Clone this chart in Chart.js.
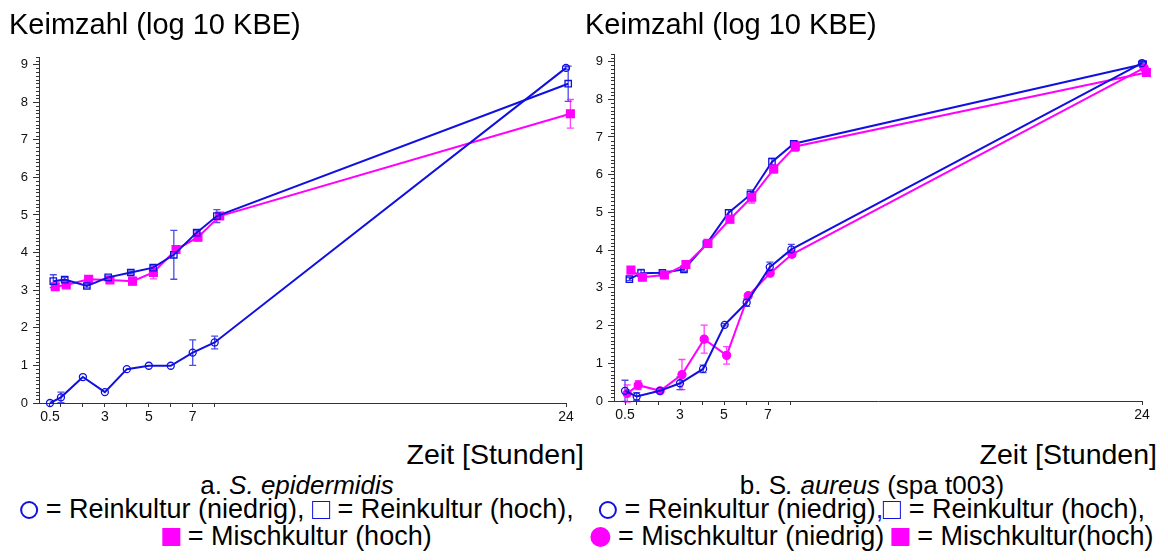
<!DOCTYPE html>
<html>
<head>
<meta charset="utf-8">
<script src="https://cdn.jsdelivr.net/npm/chart.js@4.4.1/dist/chart.umd.min.js"></script>
<style>
  body { margin: 0; background: #fff; }
  #page { position: relative; width: 1168px; height: 560px; overflow: hidden;
          font-family: "Liberation Sans", Arial, sans-serif; color: #000; }
  canvas { position: absolute; top: 0; }
  .txt { position: absolute; white-space: nowrap; line-height: 1; }
  .title { font-size: 29px; top: 10px; }
  .xname { font-size: 28.5px; top: 440px; }
  .cap { font-size: 26px; top: 472px; transform: translateX(-50%); }
  .leg { font-size: 27px; transform: translateX(-50%); }
  .sym { display: inline-block; box-sizing: border-box; vertical-align: -1px; }
  .o { width: 18px; height: 18px; border: 2px solid #1010e0; border-radius: 50%; }
  .sq { width: 18px; height: 18px; border: 1.5px solid #1010e0; }
  .fsq { width: 18px; height: 18px; background: #ff00ff; }
  .fo { width: 20px; height: 20px; background: #ff00ff; border-radius: 50%; vertical-align: -2px; }
</style>
</head>
<body>
<div id="page">
  <canvas id="epi" width="584" height="430" style="left:0"></canvas>
  <canvas id="aur" width="584" height="430" style="left:580px"></canvas>

  <div class="txt title" style="left:9px">Keimzahl (log 10 KBE)</div>
  <div class="txt title" style="left:585px">Keimzahl (log 10 KBE)</div>
  <div class="txt xname" style="right:584px">Zeit [Stunden]</div>
  <div class="txt xname" style="right:11px">Zeit [Stunden]</div>

  <div class="txt cap" style="left:297px">a. <i>S. epidermidis</i></div>
  <div class="txt cap" style="left:872px">b. S<i>. aureus</i> (spa t003)</div>

  <div class="txt leg" style="left:297px;top:496px"><span class="sym o"></span> = Reinkultur (niedrig), <span class="sym sq"></span> = Reinkultur (hoch),</div>
  <div class="txt leg" style="left:297px;top:523px"><span class="sym fsq"></span> = Mischkultur (hoch)</div>
  <div class="txt leg" style="left:872px;top:496px"><span class="sym o"></span> = Reinkultur (niedrig)<span style="color:#1010e0">,</span><span class="sym sq"></span> = Reinkultur (hoch),</div>
  <div class="txt leg" style="left:872px;top:523px"><span class="sym fo"></span> = Mischkultur (niedrig) <span class="sym fsq"></span> = Mischkultur(hoch)</div>
</div>

<script>
// axis ticks (hours / log10 KBE)
const xTicks = [0.5, 1, 2, 3, 4, 5, 6, 7, 8, 24];
const xLabels = [0.5, 3, 5, 7, 24];
const yTicks = [0, 1, 2, 3, 4, 5, 6, 7, 8, 9];

// S. epidermidis
const epiLowT = [0.5, 1, 2, 3, 4, 5, 6, 7, 8, 24];
const epiLowV = [0, 0.15, 0.69, 0.29, 0.9, 0.99, 0.99, 1.34, 1.61, 8.91];
const epiLowErr = [0, 0.14, 0, 0, 0, 0, 0, 0.34, 0.17, 0.05];
const epiHighT = [0.65, 1.17, 2.18, 3.15, 4.18, 5.2, 6.14, 7.18, 8.1, 24.1];
const epiHighV = [3.24, 3.28, 3.11, 3.34, 3.47, 3.6, 3.94, 4.53, 4.97, 8.49];
const epiHighErr = [0.17, 0.06, 0.05, 0.03, 0.04, 0.05, 0.65, 0.05, 0.17, 0.47];
const epiMixT = [0.74, 1.24, 2.26, 3.23, 4.26, 5.21, 6.24, 7.24, 8.23, 24.2];
const epiMixV = [3.09, 3.14, 3.29, 3.27, 3.24, 3.47, 4.08, 4.41, 4.97, 7.69];
const epiMixErr = [0.07, 0.05, 0.04, 0.04, 0.1, 0.17, 0.05, 0.1, 0.08, 0.38];

// S. aureus (spa t003)
const aurLowT = [0.5, 1.03, 2.08, 3, 4.05, 5.03, 6.03, 7.08, 8.06, 24];
const aurLowV = [0.27, 0.12, 0.27, 0.47, 0.85, 2.02, 2.61, 3.55, 4.02, 8.96];
const aurLowErr = [0.28, 0.1, 0.03, 0.17, 0.1, 0.03, 0.1, 0.13, 0.13, 0.05];
const aurHighT = [0.7, 1.23, 2.2, 3.18, 4.2, 5.21, 6.2, 7.18, 8.17, 24.05];
const aurHighV = [3.23, 3.39, 3.4, 3.49, 4.16, 4.99, 5.47, 6.34, 6.82, 8.93];
const aurHighErr = [0.04, 0.1, 0.05, 0.05, 0.06, 0.08, 0.13, 0.1, 0.05, 0.05];
const aurMixLowT = [0.6, 1.1, 2.1, 3.09, 4.1, 5.12, 6.1, 7.1, 8.09, 24.1];
const aurMixLowV = [0.2, 0.42, 0.27, 0.7, 1.64, 1.21, 2.79, 3.39, 3.89, 8.83];
const aurMixLowErr = [0.23, 0.12, 0.03, 0.4, 0.37, 0.23, 0.05, 0.05, 0.05, 0.05];
const aurMixHighT = [0.77, 1.29, 2.29, 3.27, 4.27, 5.27, 6.26, 7.26, 8.24, 24.2];
const aurMixHighV = [3.47, 3.28, 3.34, 3.62, 4.18, 4.82, 5.4, 6.15, 6.75, 8.71];
const aurMixHighErr = [0.03, 0.05, 0.05, 0.05, 0.05, 0.1, 0.15, 0.1, 0.13, 0.05];

const BLUE = '#1010e0';
const MAGENTA = '#ff00ff';
const AXIS = '#333';

const pts = (t, v) => t.map((x, i) => ({ x, y: v[i] }));

const series = (t, v, err, color, style, radius, filled) => ({
  data: pts(t, v),
  errors: err,
  borderColor: color,
  borderWidth: 2,
  pointStyle: style,
  pointRadius: radius,
  pointHoverRadius: radius,
  pointBorderWidth: 1.3,
  pointBorderColor: color,
  pointBackgroundColor: filled ? color : 'rgba(255,255,255,0)',
  tension: 0,
  clip: false,
});

// vertical error bars with caps, drawn under the markers
const errorBars = {
  id: 'errorBars',
  beforeDatasetsDraw(chart) {
    const { ctx } = chart;
    const y = chart.scales.y;
    chart.data.datasets.forEach((ds, i) => {
      if (!ds.errors) return;
      const meta = chart.getDatasetMeta(i);
      ctx.save();
      ctx.strokeStyle = ds.borderColor;
      ctx.globalAlpha = 0.75;
      ctx.lineWidth = 1.3;
      meta.data.forEach((pt, j) => {
        const e = ds.errors[j];
        if (!e) return;
        const v = ds.data[j].y;
        const top = y.getPixelForValue(v + e);
        const bot = y.getPixelForValue(v - e);
        ctx.beginPath();
        ctx.moveTo(pt.x, top); ctx.lineTo(pt.x, bot);
        ctx.moveTo(pt.x - 3.5, top); ctx.lineTo(pt.x + 3.5, top);
        ctx.moveTo(pt.x - 3.5, bot); ctx.lineTo(pt.x + 3.5, bot);
        ctx.stroke();
      });
      ctx.restore();
    });
  },
};

// short minor ticks every 0.1 on the y axis
const minorTicks = {
  id: 'minorTicks',
  afterDraw(chart) {
    const { ctx, chartArea } = chart;
    const y = chart.scales.y;
    ctx.save();
    ctx.strokeStyle = AXIS;
    ctx.lineWidth = 1;
    ctx.beginPath();
    for (let k = 1; k <= 92; k++) {
      if (k % 10 === 0) continue;
      const py = Math.round(y.getPixelForValue(k / 10)) + 0.5;
      ctx.moveTo(chartArea.left - 3, py);
      ctx.lineTo(chartArea.left, py);
    }
    ctx.stroke();
    ctx.restore();
  },
};

function makeChart(id, datasets, yWidth, xHeight, padTop, padRight) {
  return new Chart(document.getElementById(id), {
    type: 'line',
    data: { datasets },
    plugins: [errorBars, minorTicks],
    options: {
      responsive: false,
      animation: false,
      devicePixelRatio: 1,
      layout: { padding: { top: padTop, right: padRight, left: 0, bottom: 0 } },
      plugins: { legend: { display: false }, tooltip: { enabled: false } },
      scales: {
        x: {
          type: 'linear',
          min: 0,
          max: 24,
          afterBuildTicks: (s) => { s.ticks = xTicks.map((value) => ({ value })); },
          afterFit: (s) => { s.height = xHeight; },
          grid: { display: true, drawOnChartArea: false, drawTicks: true, tickLength: 4, color: AXIS },
          border: { display: true, color: AXIS, width: 1 },
          ticks: {
            autoSkip: false,
            maxRotation: 0,
            padding: 2,
            color: '#111',
            font: { family: 'Liberation Sans', size: 14 },
            callback: (v) => (xLabels.includes(v) ? String(v) : ''),
          },
        },
        y: {
          min: 0,
          max: 9.2,
          afterBuildTicks: (s) => { s.ticks = yTicks.map((value) => ({ value })); },
          afterFit: (s) => { s.width = yWidth; },
          grid: { display: true, drawOnChartArea: false, drawTicks: true, tickLength: 6, color: AXIS },
          border: { display: true, color: AXIS, width: 1 },
          ticks: {
            padding: 5,
            color: '#111',
            font: { family: 'Liberation Sans', size: 13 },
          },
        },
      },
    },
  });
}

makeChart('epi', [
  series(epiLowT, epiLowV, epiLowErr, BLUE, 'circle', 3.5, false),
  series(epiHighT, epiHighV, epiHighErr, BLUE, 'rect', 4.5, false),
  series(epiMixT, epiMixV, epiMixErr, MAGENTA, 'rect', 5.5, true),
], 39, 27, 57, 18);

makeChart('aur', [
  series(aurLowT, aurLowV, aurLowErr, BLUE, 'circle', 3.5, false),
  series(aurMixLowT, aurMixLowV, aurMixLowErr, MAGENTA, 'circle', 4, true),
  series(aurMixHighT, aurMixHighV, aurMixHighErr, MAGENTA, 'rect', 5.5, true),
  series(aurHighT, aurHighV, aurHighErr, BLUE, 'rect', 4.5, false),
], 34, 29, 54, 22);
</script>
</body>
</html>
